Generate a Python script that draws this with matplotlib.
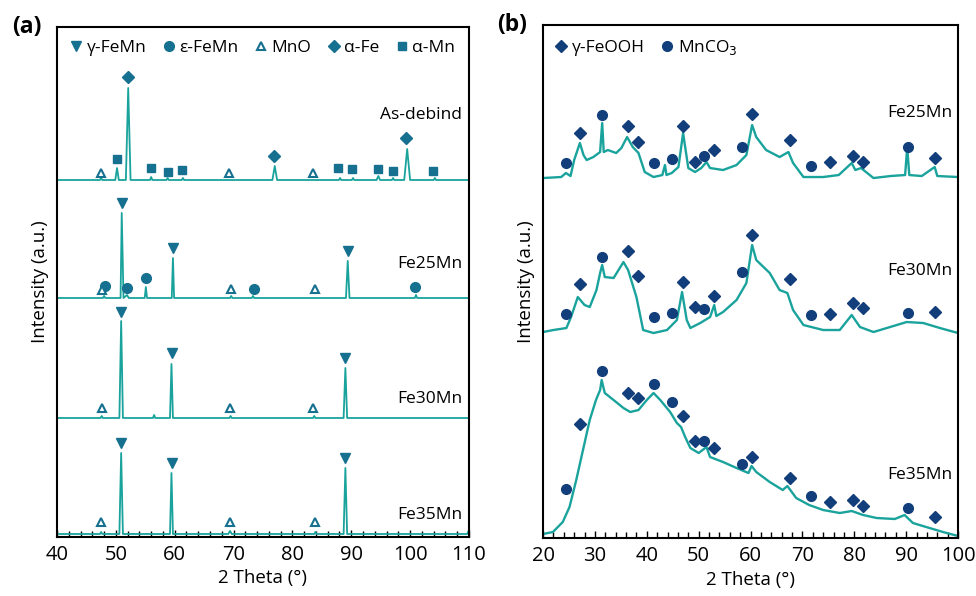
import matplotlib
matplotlib.use('Agg')
import matplotlib.pyplot as plt
from matplotlib.ticker import MultipleLocator

plt.rcParams['font.family'] = ['Open Sans', 'DejaVu Sans']

LINE = '#1aa39c'
MARK_A = '#16708f'
MARK_B = '#123f7c'

# ---------------- panel (a) data ----------------
asdebind_x = [40, 47.3, 47.5, 47.7, 49.9, 50.2, 50.5, 51.7, 52.1, 52.5, 55.8, 56.0, 56.2,
              58.6, 58.8, 59.0, 61.2, 61.4, 61.6, 76.6, 77.0, 77.4, 87.9, 88.1, 88.3,
              90.1, 90.3, 90.5, 94.3, 94.6, 94.9, 96.9, 97.1, 97.3, 99.0, 99.5, 100.0,
              104.0, 104.2, 104.4, 110]
asdebind_y = [357, 357, 359, 357, 357, 369, 357, 357, 449, 357, 357, 360, 357,
              357, 359, 357, 357, 359, 357, 357, 371, 357, 357, 359, 357,
              357, 359, 357, 357, 361, 357, 357, 359, 357, 357, 388, 357,
              357, 359, 357, 357]

fe25_x = [40, 47.8, 48.0, 48.2, 50.8, 51.0, 51.3, 51.9, 52.2, 54.9, 55.1, 55.3, 59.5, 59.7, 59.9,
          69.4, 69.6, 69.8, 73.1, 73.3, 73.5, 89.1, 89.4, 89.7, 100.8, 101.0, 101.2, 110]
fe25_y = [239, 239, 241, 239, 239, 324, 239, 242, 239, 239, 250, 239, 239, 279, 239,
          239, 241, 239, 239, 241, 239, 239, 276, 239, 239, 242, 239, 239]

fe30_x = [40, 47.4, 47.6, 47.8, 50.6, 50.9, 51.2, 56.3, 56.5, 56.7, 59.2, 59.45, 59.7,
          69.3, 69.5, 69.7, 83.5, 83.7, 83.9, 88.7, 89.0, 89.3, 110]
fe30_y = [119, 119, 121, 119, 119, 216, 119, 119, 122, 119, 119, 173, 119,
          119, 121, 119, 119, 121, 119, 119, 169, 119, 119]

fe35_x = [40, 47.3, 47.5, 47.7, 50.6, 50.9, 51.2, 59.2, 59.45, 59.7,
          69.1, 69.4, 69.7, 83.7, 83.9, 84.1, 88.7, 89.0, 89.3, 109.7, 110]
fe35_y = [3, 3, 5, 3, 3, 84, 3, 3, 64, 3,
          3, 6, 3, 3, 5, 3, 3, 69, 3, 3, 7]

# markers (a): phase -> (2theta, intensity)
gfemn_x = [51.0, 59.7, 89.4, 50.9, 59.5, 88.9, 50.9, 59.5, 89.0]
gfemn_y = [334, 289, 286, 225, 184, 179, 94, 74, 79]
efemn_x = [48.2, 51.9, 55.1, 73.4, 100.8]
efemn_y = [251, 249, 259, 248, 250]
mno_x = [47.5, 69.2, 83.5, 47.6, 69.6, 83.8, 47.7, 69.4, 83.5, 47.5, 69.4, 83.9]
mno_y = [364, 364, 364, 247, 248, 248, 129, 129, 129, 15, 15, 15]
afe_x = [52.1, 76.9, 99.3]
afe_y = [460, 381, 399]
amn_x = [50.2, 56.0, 58.8, 61.3, 87.8, 90.2, 94.6, 97.1, 103.9]
amn_y = [378, 369, 365, 367, 369, 368, 368, 366, 366]

labels_a = ['As-debind', 'Fe25Mn', 'Fe30Mn', 'Fe35Mn']
labels_a_y = [422, 273, 138, 22]

# ---------------- panel (b) data ----------------
b25_x = [20, 23.5, 24.4, 25.3, 26.0, 27.1, 27.8, 28.4, 29.7, 31.0, 31.4, 31.7, 32.5, 34.1, 35.1,
         36.2, 37.3, 38.4, 39.6, 41.3, 43.0, 43.5, 43.8, 44.8, 46.1, 47.0, 48.0, 49.3, 50.5,
         51.5, 52.2, 54.7, 57.3, 59.2, 60.3, 61.1, 63.0, 65.6, 67.3, 68.2, 70.2, 74.0, 77.0,
         79.5, 80.2, 81.3, 83.7, 87.0, 89.8, 90.2, 90.6, 93.0, 95.5, 96.0, 100]
b25_y = [360, 361, 365, 362, 378, 395, 383, 378, 381, 386, 415, 386, 388, 385, 390,
         401, 391, 385, 366, 361, 363, 373, 363, 365, 371, 405, 370, 366, 370,
         376, 370, 368, 373, 383, 413, 401, 388, 381, 386, 375, 361, 361, 363,
         375, 368, 370, 360, 362, 363, 391, 363, 362, 371, 362, 361]

b30_x = [20, 22, 24.5, 25.4, 26.7, 28.0, 29.0, 30.3, 31.0, 31.4, 31.9, 33.6, 35.5, 36.4, 38.0,
         39.3, 41.3, 43.9, 45.8, 46.8, 47.7, 48.4, 50.3, 52.2, 53.0, 53.4, 54.7, 57.3, 59.2,
         60.3, 61.1, 63.7, 65.6, 67.1, 68.2, 70.2, 74.0, 77.2, 79.5, 81.1, 83.7, 86.9, 90.1,
         93.3, 96.5, 100]
b30_y = [206, 208, 210, 221, 241, 233, 231, 248, 265, 273, 261, 260, 276, 268, 241,
         208, 205, 208, 218, 246, 218, 210, 215, 221, 233, 222, 226, 238, 255,
         293, 278, 265, 248, 245, 228, 213, 208, 208, 223, 211, 206, 211, 216,
         215, 210, 205]

b35_x = [20, 21.9, 23.8, 25.1, 26.4, 27.7, 29.0, 30.2, 31.0, 31.3, 31.9, 33.6, 35.5, 36.8, 38.4,
         40.0, 41.3, 42.6, 44.5, 45.8, 46.6, 47.4, 48.4, 50.0, 51.5, 52.2, 54.7, 57.3, 59.6,
         60.2, 61.1, 63.7, 66.2, 67.1, 68.8, 71.3, 74.0, 77.2, 79.5, 81.7, 84.3, 87.8, 89.7,
         91.3, 94.5, 97.1, 100]
b35_y = [4, 6, 16, 31, 58, 88, 118, 138, 148, 158, 145, 138, 130, 126, 128,
         138, 145, 138, 126, 115, 111, 101, 90, 85, 91, 81, 76, 70, 65,
         72, 66, 56, 48, 52, 40, 33, 28, 25, 27, 23, 20, 19, 23,
         15, 10, 6, 2]

mnco3_x = [24.4, 31.4, 41.3, 44.8, 51.1, 58.3, 71.6, 90.3]
mnco3_y25 = [375, 423, 375, 379, 382, 391, 372, 391]
mnco3_y30 = [224, 281, 221, 225, 229, 266, 223, 225]
mnco3_y35 = [49, 167, 154, 136, 97, 74, 42, 30]
feooh_x = [27.1, 36.3, 38.4, 47.0, 49.3, 53.0, 60.3, 67.6, 75.4, 79.8, 81.6, 95.5]
feooh_y25 = [405, 412, 396, 412, 376, 388, 424, 398, 376, 382, 376, 380]
feooh_y30 = [254, 287, 262, 256, 231, 242, 303, 259, 224, 235, 230, 226]
feooh_y35 = [114, 145, 140, 122, 97, 90, 81, 60, 36, 38, 32, 21]

labels_b = ['Fe25Mn', 'Fe30Mn', 'Fe35Mn']
labels_b_y = [425, 267, 63]

fig = plt.figure(figsize=(9.76, 5.96), dpi=100)
ax1 = fig.add_axes([0.0584, 0.099, 0.4221, 0.8557])
ax2 = fig.add_axes([0.5564, 0.0973, 0.4252, 0.8607])

FS = 12.5

# panel (a)
for xs, ys in [(asdebind_x, asdebind_y), (fe25_x, fe25_y), (fe30_x, fe30_y), (fe35_x, fe35_y)]:
    ax1.plot(xs, ys, color=LINE, lw=1.3)
ax1.plot(gfemn_x, gfemn_y, 'v', color=MARK_A, ms=7, ls='none', label='γ-FeMn')
ax1.plot(efemn_x, efemn_y, 'o', color=MARK_A, ms=7, ls='none', label='ε-FeMn')
ax1.plot(mno_x, mno_y, '^', mfc='white', mec=MARK_A, mew=1.5, ms=5.5, ls='none', label='MnO')
ax1.plot(afe_x, afe_y, 'D', color=MARK_A, ms=6, ls='none', label='α-Fe')
ax1.plot(amn_x, amn_y, 's', color=MARK_A, ms=6, ls='none', label='α-Mn')
for lab, ly in zip(labels_a, labels_a_y):
    ax1.text(108.8, ly, lab, ha='right', va='center', fontsize=FS)
ax1.set_xlim(40, 110)
ax1.set_ylim(0, 510)
ax1.xaxis.set_major_locator(MultipleLocator(10))
ax1.xaxis.set_minor_locator(MultipleLocator(2))
ax1.set_xlabel('2 Theta (°)', fontsize=13.5, labelpad=3)
ax1.set_ylabel('Intensity (a.u.)', fontsize=13.5)
ax1.legend(loc='upper center', ncol=5, frameon=False, fontsize=FS, handlelength=0.6,
           handletextpad=0.3, columnspacing=1.0, borderaxespad=0.35)

# panel (b)
for xs, ys in [(b25_x, b25_y), (b30_x, b30_y), (b35_x, b35_y)]:
    ax2.plot(xs, ys, color=LINE, lw=1.7)
for i, (cy, dy) in enumerate([(mnco3_y25, feooh_y25), (mnco3_y30, feooh_y30), (mnco3_y35, feooh_y35)]):
    ax2.plot(feooh_x, dy, 'D', color=MARK_B, ms=6, ls='none', label='γ-FeOOH' if i == 0 else None)
    ax2.plot(mnco3_x, cy, 'o', color=MARK_B, ms=7, ls='none', label='MnCO$_3$' if i == 0 else None)
for lab, ly in zip(labels_b, labels_b_y):
    ax2.text(99.0, ly, lab, ha='right', va='center', fontsize=FS)
ax2.set_xlim(20, 100)
ax2.set_ylim(0, 513)
ax2.xaxis.set_major_locator(MultipleLocator(10))
ax2.xaxis.set_minor_locator(MultipleLocator(2))
ax2.set_xlabel('2 Theta (°)', fontsize=13.5, labelpad=3)
ax2.set_ylabel('Intensity (a.u.)', fontsize=13.5)
ax2.legend(loc='upper left', ncol=2, frameon=False, fontsize=FS, handlelength=0.6,
           handletextpad=0.3, columnspacing=1.0, borderaxespad=0.35)

for ax in (ax1, ax2):
    ax.set_yticks([])
    ax.tick_params(axis='x', which='major', direction='in', length=5, width=1, labelsize=14.5, pad=6)
    ax.tick_params(axis='x', which='minor', direction='in', length=4, width=1)
    for sp in ax.spines.values():
        sp.set_linewidth(1.5)
    ax.yaxis.labelpad = 6

fig.text(0.012, 0.955, '(a)', fontsize=16.5, fontweight='bold', va='center')
fig.text(0.509, 0.958, '(b)', fontsize=16.5, fontweight='bold', va='center')

fig.savefig('out.png', dpi=100)
